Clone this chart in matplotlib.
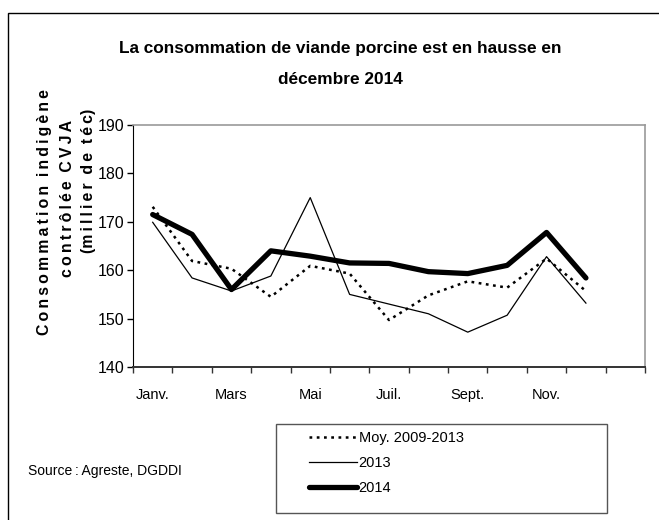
import matplotlib

matplotlib.use("Agg")
import matplotlib.pyplot as plt
from matplotlib.patches import Rectangle
from matplotlib.lines import Line2D

plt.rcParams["font.family"] = ["Liberation Sans", "DejaVu Sans"]

months = ["Janv.", "Févr.", "Mars", "Avril", "Mai", "Juin",
          "Juil.", "Août", "Sept.", "Oct.", "Nov.", "Déc."]
moy_2009_2013 = [173.1, 161.9, 160.3, 154.5, 160.9, 159.3,
                 149.7, 154.8, 157.7, 156.4, 162.4, 155.7]
val_2013 = [169.9, 158.4, 155.7, 158.8, 175.0, 155.0,
            153.0, 151.0, 147.2, 150.7, 162.8, 153.2]
val_2014 = [171.5, 167.4, 156.0, 164.0, 162.9, 161.5,
            161.4, 159.7, 159.3, 161.0, 167.8, 158.4]
series_labels = ["Moy. 2009-2013", "2013", "2014"]

W, H = 659, 520
fig = plt.figure(figsize=(W / 100, H / 100), dpi=100)

# outer frame (top and left edges visible, the rest is cut off)
fig.patches.append(Rectangle((8 / W, -0.1), 1.2, 1 - 13 / H + 0.1,
                             transform=fig.transFigure, fill=False,
                             edgecolor="black", linewidth=1.0))

left, right, top, bottom = 133 / W, 645 / W, 1 - 125 / H, 1 - 367 / H
ax = fig.add_axes([left, bottom, right - left, top - bottom])

x = list(range(1, len(months) + 1))
ax.plot(x, moy_2009_2013, color="black", linewidth=1.8, dashes=(1.1, 1.8),
        dash_capstyle="butt", label=series_labels[0])
ax.plot(x, val_2013, color="black", linewidth=0.9, label=series_labels[1])
ax.plot(x, val_2014, color="black", linewidth=3.8, solid_joinstyle="round",
        solid_capstyle="round", label=series_labels[2])

ax.set_xlim(0.5, 13.5)
ax.set_ylim(140, 190)
ax.set_yticks(range(140, 191, 10))
ax.set_xticks([i + 0.5 for i in range(14)])
ax.set_xticklabels([])
ax.set_xticks(x[::2], minor=True)
ax.set_xticklabels(months[::2], minor=True)
ax.tick_params(axis="x", which="minor", length=0, pad=15, labelsize=10.5)
ax.tick_params(axis="x", which="major", length=4, width=1, color="#333333", direction="out")
ax.tick_params(axis="y", length=4, width=1, direction="out", labelsize=11.5, pad=2)

for s in ("top", "right"):
    ax.spines[s].set_color("#999999")
    ax.spines[s].set_linewidth(1.2)
ax.spines["left"].set_color("black")
ax.spines["bottom"].set_color("#333333")
ax.spines["bottom"].set_linewidth(1.4)

fig.text(340 / W, 1 - 48 / H, "La consommation de viande porcine est en hausse en",
         ha="center", va="center", fontsize=12.4, fontweight="bold")
fig.text(340 / W, 1 - 80 / H, "décembre 2014",
         ha="center", va="center", fontsize=12.4, fontweight="bold")

sp = "\u2009"
ylab = [(sp.join("Consommation") + "  " + sp.join("indigène"), 45, 212),
        (sp.join("contrôlée") + "  " + sp.join("CVJA"), 67, 198),
        ("(" + sp.join("millier") + "  " + sp.join("de") + "  " + sp.join("téc") + ")", 88, 181)]
for txt, xp, yp in ylab:
    fig.text(xp / W, 1 - yp / H, txt, rotation=90, ha="center", va="center",
             fontsize=11.4, fontweight="bold")

fig.text(28 / W, 1 - 471 / H, "Source\u2009:\u2009Agreste, DGDDI", ha="left", va="center",
         fontsize=10)

# legend box
fig.patches.append(Rectangle((276 / W, 1 - 513 / H), (607 - 276) / W, (513 - 424) / H,
                             transform=fig.transFigure, fill=False,
                             edgecolor="#555555", linewidth=1.0))
handles = [
    Line2D([], [], color="black", linewidth=1.8, dashes=(1.1, 1.8), dash_capstyle="butt"),
    Line2D([], [], color="black", linewidth=0.9),
    Line2D([], [], color="black", linewidth=3.8, solid_capstyle="round"),
]
fig.legend(handles, series_labels, loc="upper left",
           bbox_to_anchor=(309 / W, 1 - 431 / H), frameon=False, fontsize=10.5,
           handlelength=3.3, handletextpad=0.1, labelspacing=0.75,
           borderaxespad=0, borderpad=0)

fig.savefig("out.png", dpi=100)
